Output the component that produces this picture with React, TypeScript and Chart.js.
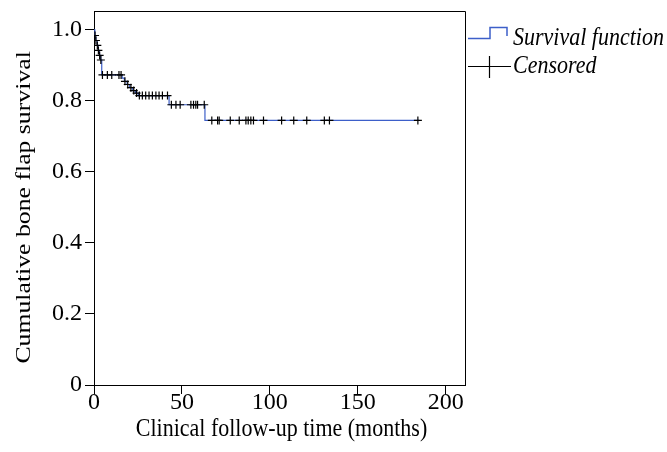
import React, { useEffect, useRef } from 'react';
import { Chart, registerables } from 'chart.js';

Chart.register(...registerables);

// Kaplan-Meier step points (months, cumulative survival)
const eventTimes = [0, 0.5, 1.0, 1.8, 2.4, 3.1, 3.8, 4.4, 16.0, 17.3, 18.8, 20.3, 22.0, 23.6, 25.2, 42.7, 63.1, 185];
const survival = [1.0, 0.984, 0.97, 0.956, 0.942, 0.928, 0.915, 0.873, 0.864, 0.855, 0.846, 0.837, 0.829, 0.822, 0.815, 0.789, 0.745, 0.745];

// Censored observations
const censorTimes = [
  0.6, 1.1, 1.9, 2.5, 3.2, 3.9,
  4.8, 7.6, 10.1, 14.2, 15.4,
  17.6, 19.2, 21.0, 22.6, 24.2,
  25.8, 27.5, 29.4, 31.3, 33.2, 35.2, 37.0, 38.9, 41.8,
  44.0, 46.6, 49.0, 55.1, 56.6, 57.9, 58.9, 62.7,
  67.0, 70.3, 71.2, 77.5, 82.6, 86.4, 87.7, 89.2, 90.7, 96.4, 106.7, 113.6, 121.0, 131.0, 133.9, 184.2,
];
const censorSurvival = [
  0.984, 0.97, 0.956, 0.942, 0.928, 0.915,
  0.873, 0.873, 0.873, 0.873, 0.873,
  0.855, 0.846, 0.837, 0.829, 0.822,
  0.815, 0.815, 0.815, 0.815, 0.815, 0.815, 0.815, 0.815, 0.815,
  0.789, 0.789, 0.789, 0.789, 0.789, 0.789, 0.789, 0.789,
  0.745, 0.745, 0.745, 0.745, 0.745, 0.745, 0.745, 0.745, 0.745, 0.745, 0.745, 0.745, 0.745, 0.745, 0.745, 0.745,
];

const xTicks = [0, 50, 100, 150, 200];
const yTicks = [0, 0.2, 0.4, 0.6, 0.8, 1.0];
const xTitle = 'Clinical follow-up time (months)';
const yTitle = 'Cumulative bone flap survival';
const legendLabels = ['Survival function', 'Censored'];

const SERIF = '"Liberation Serif", "Times New Roman", serif';
const BLUE = '#3d5fc9';

export default function App() {
  const ref = useRef<HTMLCanvasElement>(null);

  useEffect(() => {
    const canvas = ref.current;
    if (!canvas) return;

    const decorPlugin = {
      id: 'decor',
      afterDraw(chart: any) {
        const { ctx, chartArea: a, scales } = chart;
        ctx.save();
        ctx.strokeStyle = '#000';
        ctx.lineWidth = 1;
        // top & right frame
        ctx.beginPath();
        ctx.moveTo(a.left, a.top + 0.5);
        ctx.lineTo(a.right + 0.5, a.top + 0.5);
        ctx.lineTo(a.right + 0.5, a.bottom + 0.5);
        ctx.stroke();

        ctx.fillStyle = '#000';
        // x title
        ctx.save();
        ctx.font = `22px ${SERIF}`;
        ctx.textAlign = 'center';
        ctx.textBaseline = 'alphabetic';
        ctx.translate((a.left + a.right) / 2 + 2, 436);
        ctx.scale(1, 1.15);
        ctx.fillText(xTitle, 0, 0);
        ctx.restore();

        // y title
        const y0 = scales.y.getPixelForValue(0);
        const y1 = scales.y.getPixelForValue(1);
        ctx.save();
        ctx.font = `22px ${SERIF}`;
        ctx.textAlign = 'center';
        ctx.textBaseline = 'middle';
        ctx.translate(24, (y0 + y1) / 2);
        ctx.rotate(-Math.PI / 2);
        ctx.scale(1.17, 1);
        ctx.fillText(yTitle, 0, 0);
        ctx.restore();

        // legend
        const lx = a.right + 3;
        ctx.save();
        ctx.strokeStyle = BLUE;
        ctx.lineWidth = 1.5;
        ctx.beginPath();
        ctx.moveTo(lx, 38.5);
        ctx.lineTo(lx + 22, 38.5);
        ctx.lineTo(lx + 22, 27.5);
        ctx.lineTo(lx + 39, 27.5);
        ctx.lineTo(lx + 39, 36);
        ctx.stroke();
        ctx.strokeStyle = '#000';
        ctx.lineWidth = 1.2;
        ctx.beginPath();
        ctx.moveTo(lx, 66.5);
        ctx.lineTo(lx + 43, 66.5);
        ctx.moveTo(lx + 21.5, 56);
        ctx.lineTo(lx + 21.5, 78);
        ctx.stroke();
        ctx.font = `italic 22px ${SERIF}`;
        ctx.textAlign = 'left';
        ctx.textBaseline = 'alphabetic';
        ctx.save();
        ctx.translate(lx + 45, 45);
        ctx.scale(1, 1.15);
        ctx.fillText(legendLabels[0], 0, 0);
        ctx.restore();
        ctx.save();
        ctx.translate(lx + 45, 73);
        ctx.scale(1, 1.15);
        ctx.fillText(legendLabels[1], 0, 0);
        ctx.restore();
        ctx.restore();

        ctx.restore();
      },
    };

    const chart = new Chart(canvas, {
      type: 'scatter',
      data: {
        datasets: [
          {
            label: legendLabels[0],
            data: eventTimes.map((t, i) => ({ x: t, y: survival[i] })),
            showLine: true,
            stepped: true,
            borderColor: BLUE,
            borderWidth: 1.2,
            pointRadius: 0,
            fill: false,
            order: 1,
          } as any,
          {
            label: legendLabels[1],
            data: censorTimes.map((t, i) => ({ x: t, y: censorSurvival[i] })),
            showLine: false,
            pointStyle: 'cross',
            pointRadius: 4,
            borderColor: '#000',
            borderWidth: 1.2,
            backgroundColor: '#000',
            order: 0,
          } as any,
        ],
      },
      options: {
        responsive: false,
        animation: false,
        events: [],
        layout: { padding: { top: 11, right: 202, left: 0, bottom: 0 } },
        plugins: {
          legend: { display: false },
          tooltip: { enabled: false },
        },
        scales: {
          x: {
            type: 'linear',
            min: 0,
            max: 211,
            afterBuildTicks: (s: any) => {
              s.ticks = xTicks.map((v) => ({ value: v }));
            },
            afterFit: (s: any) => {
              s.height = 67;
              s.paddingLeft = 0;
              s.paddingRight = 0;
            },
            ticks: {
              color: '#000',
              font: { family: SERIF, size: 24 },
              padding: -6,
              maxRotation: 0,
              autoSkip: false,
            },
            grid: { drawOnChartArea: false, drawTicks: true, tickLength: 9, color: '#000' },
            border: { display: true, color: '#000' },
          },
          y: {
            type: 'linear',
            min: 0,
            max: 1.053,
            afterBuildTicks: (s: any) => {
              s.ticks = yTicks.map((v) => ({ value: v }));
            },
            afterFit: (s: any) => {
              s.width = 94;
              s.paddingTop = 0;
              s.paddingBottom = 0;
            },
            ticks: {
              color: '#000',
              font: { family: SERIF, size: 24 },
              padding: 3,
              callback: (v: any) => (Number(v) === 0 ? '0' : Number(v).toFixed(1)),
            },
            grid: { drawOnChartArea: false, drawTicks: true, tickLength: 9, color: '#000' },
            border: { display: true, color: '#000' },
          },
        },
      },
      plugins: [decorPlugin],
    } as any);

    return () => chart.destroy();
  }, []);

  return (
    <div style={{ position: 'absolute', left: 0, top: 0, width: 667, height: 452, background: '#fff' }}>
      <canvas ref={ref} width={667} height={452} style={{ display: 'block' }} />
    </div>
  );
}
